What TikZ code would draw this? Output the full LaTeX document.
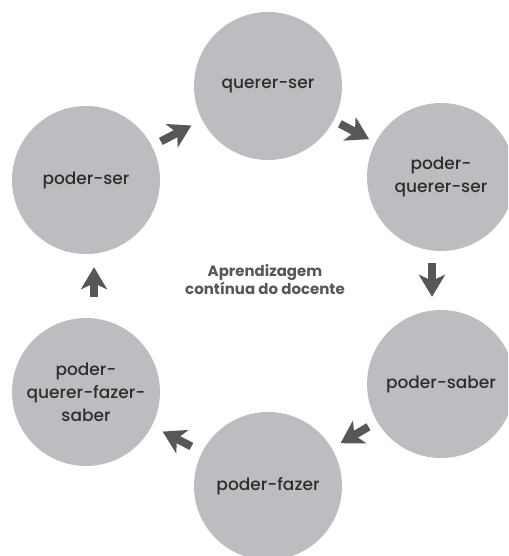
\documentclass[tikz,border=0pt]{standalone}
\usepackage{fontspec}
\setmainfont{Poppins}
\newfontfamily\stagefont{Poppins Medium}
\usetikzlibrary{arrows.meta}
\definecolor{stagegrey}{HTML}{BCBDC0}
\definecolor{arrowgrey}{HTML}{555759}
\definecolor{textgrey}{HTML}{2E2E2E}
\tikzset{
	stage/.style={circle, fill=stagegrey, minimum size=148pt, inner sep=0pt,
		align=center, text=textgrey, font=\stagefont\fontsize{17}{23}\selectfont},
	flow/.style={draw=arrowgrey, line width=8pt,
		-{Stealth[length=22pt,width=26pt,inset=6pt,fill=arrowgrey]}},
}

\begin{document}
\begin{tikzpicture}[x=1pt,y=-1pt]
	%%%%% START %%%%%
	
	\useasboundingbox (0,0) rectangle (508,556);
	\clip (0,0) rectangle (508,556);
	
	\node[stage] (qs) at (268,86) {querer-ser};
	\node[stage] (pqs) at (441,177) {poder-\\querer-ser};
	\node[stage] (psab) at (441,384) {poder-saber};
	\node[stage] (pf) at (268,486) {poder-fazer};
	\node[stage] (pqfs) at (86,392) {poder-\\querer-fazer-\\saber};
	\node[stage] (pser) at (86,180) {poder-ser};
	
	\node[align=center, text=arrowgrey, font=\fontsize{15}{18}\bfseries\selectfont] (aprend) at (265,280) {Aprendizagem\\contínua do docente};
	
	\draw[flow, shorten <=10pt, shorten >=12pt] (pser) -- (qs);
	\draw[flow, shorten <=7pt, shorten >=7pt] (qs) -- (pqs);
	\draw[flow, shorten <=12pt, shorten >=13pt] ([xshift=-9pt]pqs.south) -- ([xshift=-9pt]psab.north);
	\draw[flow, shorten <=10pt, shorten >=10pt] (psab) -- (pf);
	\draw[flow, shorten <=12pt, shorten >=12pt] (pf) -- (pqfs);
	\draw[flow, shorten <=21pt, shorten >=13pt] ([xshift=8pt]pqfs.north) -- ([xshift=8pt]pser.south);
	
	%%%%% END %%%%%
\end{tikzpicture}
\end{document}
